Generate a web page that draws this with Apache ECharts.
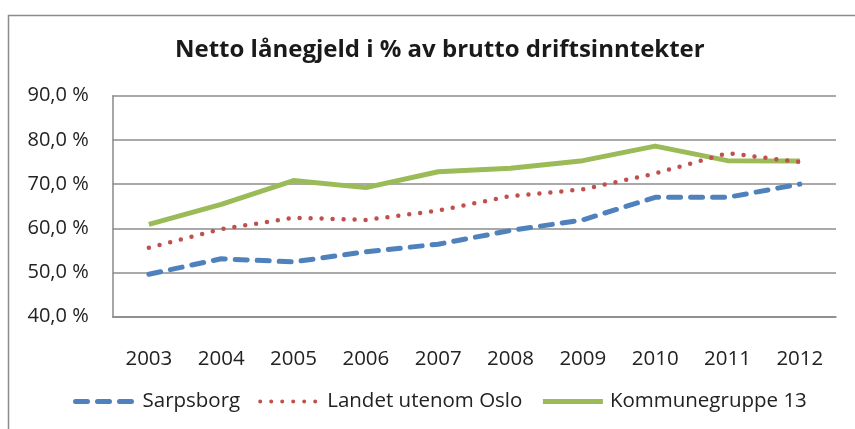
<!DOCTYPE html>
<html>
<head>
<meta charset="utf-8">
<script src="https://cdn.jsdelivr.net/npm/echarts@6/dist/echarts.min.js"></script>
<style>html,body{margin:0;padding:0;background:#fff}#c{width:855px;height:429px}</style>
</head>
<body>
<div id="c"></div>
<script>
const categories = ['2003','2004','2005','2006','2007','2008','2009','2010','2011','2012'];
const sarpsborg = [49.6, 53.1, 52.4, 54.7, 56.4, 59.5, 61.9, 67.0, 67.0, 70.0];
const landetUtenomOslo = [55.6, 59.8, 62.4, 61.9, 64.0, 67.3, 68.8, 72.4, 77.0, 75.0];
const kommunegruppe13 = [60.9, 65.4, 70.8, 69.2, 72.8, 73.6, 75.3, 78.6, 75.3, 75.2];
const seriesNames = ['Sarpsborg', 'Landet utenom Oslo', 'Kommunegruppe 13'];
const titleText = 'Netto lånegjeld i % av brutto driftsinntekter';

const colors = ['#4F81BD', '#C0504D', '#9BBB59'];
const lineStyles = [
  {width: 5, type: [12, 10], cap: 'round', join: 'round', color: colors[0]},
  {width: 4.5, type: [0, 11], cap: 'round', color: colors[1]},
  {width: 5, type: 'solid', join: 'round', color: colors[2]}
];
const values = [sarpsborg, landetUtenomOslo, kommunegruppe13];

const chart = echarts.init(document.getElementById('c'), null, {renderer: 'canvas'});
const font = "'Open Sans', 'Liberation Sans', sans-serif";
chart.setOption({
  animation: false,
  backgroundColor: '#fff',
  graphic: [{
    type: 'rect', left: 6, top: 13, silent: true, z: -10,
    shape: {width: 900, height: 500},
    style: {fill: 'none', stroke: '#8c8c8c', lineWidth: 1.5}
  }],
  title: {
    text: titleText, left: 170, top: 33,
    textStyle: {fontFamily: font, fontWeight: 'bold', fontSize: 24, color: '#1a1a1a'}
  },
  legend: {
    data: seriesNames.map((n, i) => ({
      name: n,
      itemStyle: {opacity: 0},
      lineStyle: Object.assign({}, lineStyles[i], {width: i === 1 ? 4 : 5})
    })),
    bottom: 12, left: 68,
    itemWidth: 60, itemHeight: 14, itemGap: 18,
    textStyle: {fontFamily: font, fontSize: 20.5, color: '#222', padding: [0,0,0,2]}
  },
  grid: {left: 112.7, top: 95.7, right: 19, bottom: 112.3, containLabel: false},
  xAxis: {
    type: 'category', data: categories, boundaryGap: true,
    axisLine: {lineStyle: {color: '#888', width: 1.5}},
    axisTick: {show: false},
    axisLabel: {fontFamily: font, fontSize: 20.5, color: '#222', margin: 32}
  },
  yAxis: {
    type: 'value', min: 40, max: 90, interval: 10,
    axisLine: {show: true, lineStyle: {color: '#888', width: 1.5}},
    axisTick: {show: false},
    splitLine: {lineStyle: {color: '#8c8c8c', width: 1.5}},
    axisLabel: {fontFamily: font, fontSize: 20, color: '#222', margin: 24,
      formatter: v => v.toFixed(1).replace('.', ',') + ' %'}
  },
  series: seriesNames.map((n, i) => ({
    name: n, type: 'line', data: values[i], symbol: 'none', color: colors[i],
    lineStyle: lineStyles[i], z: 3 - i
  }))
});
</script>
</body>
</html>
